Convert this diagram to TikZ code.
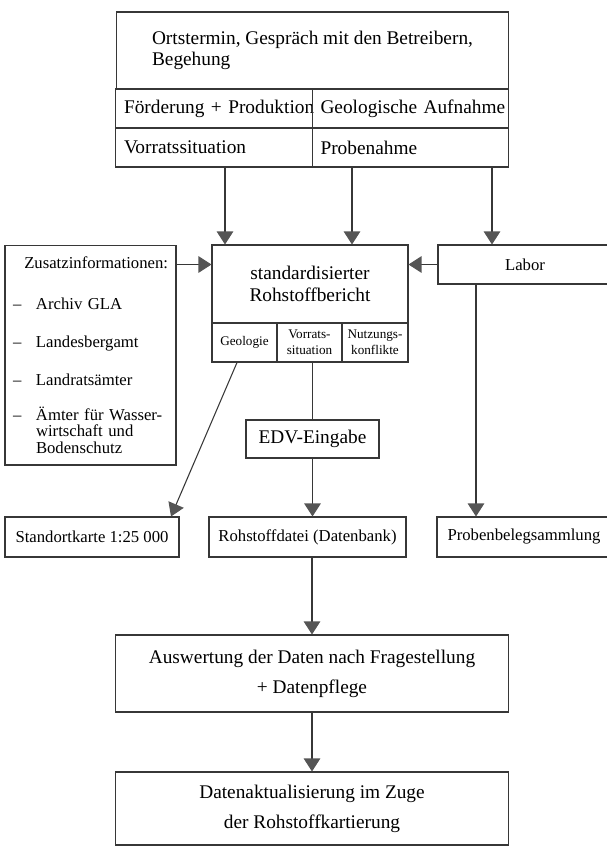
\documentclass[tikz,border=0pt]{standalone}
\usepackage{fontspec}
\setmainfont{Liberation Serif}
\usetikzlibrary{arrows.meta}
\definecolor{strichgrau}{RGB}{55,55,55}
\definecolor{spitze}{RGB}{85,85,85}

\begin{document}
\begin{tikzpicture}[x=0.02cm, y=-0.02cm,
    kasten/.style={draw=strichgrau, line width=0.6pt, inner sep=0pt, minimum height=0.78cm},
    gross/.style={font=\fontsize{11}{12.2}\selectfont},
    mittel/.style={font=\fontsize{9.5}{11}\selectfont},
    klein/.style={font=\fontsize{7.5}{9}\selectfont},
    zelle/.style={kasten, gross, minimum width=3.93cm, text width=3.6cm, align=left},
    strich/.style={draw=strichgrau, line width=0.6pt},
    pfeil/.style={strich, -{Triangle[length=2.6mm, width=3.3mm, color=spitze]}}]
      \useasboundingbox (0,0) rectangle (607,846);
      \node[kasten, gross, minimum width=7.86cm, minimum height=1.54cm, align=left] (ort) at (312.5,50.5) {Ortstermin, Gespräch mit den Betreibern,\\Begehung};
      \node[zelle] (foerd) at (214,108.5) {\mbox{Förderung + Produktion}};
      \node[zelle] (geoauf) at (410.5,108.5) {\mbox{Geologische Aufnahme}};
      \node[zelle] (vorrat) at (214,147.5) {Vorratssituation};
      \node[zelle] (probe) at (410.5,147.5) {Probenahme};

      \node[kasten, gross, minimum width=3.92cm, minimum height=1.56cm, align=center] (bericht) at (310,284) {standardisierter\\Rohstoffbericht};
      \node[kasten, klein, minimum width=1.3cm] (geo) at (244.5,342.5) {Geologie};
      \node[kasten, klein, minimum width=1.3cm, align=center] (vsit) at (309.5,342.5) {Vorrats-\\situation};
      \node[kasten, klein, minimum width=1.32cm, align=center] (nutz) at (375,342.5) {Nutzungs-\\konflikte};

      \node[kasten, font=\fontsize{9.5}{9.3}\selectfont, minimum width=3.42cm, minimum height=4.4cm, text width=3.1cm, align=left] (zusatz) at (90.5,355) {\hfill Zusatzinformationen:\\[14pt]
        \makebox[0.46cm][l]{--}Archiv GLA\\[12.5pt]
        \makebox[0.46cm][l]{--}Landesbergamt\\[12.5pt]
        \makebox[0.46cm][l]{--}Landratsämter\\[10.5pt]
        \makebox[0.46cm][l]{--}Ämter für Wasser-\\\hspace*{0.46cm}wirtschaft und\\\hspace*{0.46cm}Bodenschutz};
      \node[kasten, mittel, minimum width=3.48cm] (labor) at (525,264.5) {Labor};

      \node[kasten, gross, minimum width=2.66cm, minimum height=0.76cm] (edv) at (312.5,439) {EDV-Eingabe};
      \node[kasten, mittel, minimum width=3.48cm, minimum height=0.8cm] (karte) at (92,537) {Standortkarte 1:25 000};
      \node[kasten, mittel, minimum width=3.94cm, minimum height=0.8cm] (datei) at (307.5,537) {Rohstoffdatei (Datenbank)};
      \node[kasten, mittel, minimum width=3.48cm, minimum height=0.8cm] (beleg) at (524,537) {Probenbelegsammlung};

      \node[kasten, gross, minimum width=7.88cm, minimum height=1.54cm, align=center] (auswert) at (312,673.5) {Auswertung der Daten nach Fragestellung\\[5pt]+ Datenpflege};
      \node[kasten, gross, minimum width=7.88cm, minimum height=1.46cm, align=center] (aktual) at (312,808.5) {Datenaktualisierung im Zuge\\[5pt]der Rohstoffkartierung};

      \draw[pfeil] (225,0 |- vorrat.south) -- (225,0 |- bericht.north);
      \draw[pfeil] (352,0 |- probe.south) -- (352,0 |- bericht.north);
      \draw[pfeil] (492,0 |- probe.south) -- (492,0 |- labor.north);
      \draw[pfeil] (zusatz.east |- labor.west) -- (bericht.west |- labor.west);
      \draw[pfeil] (labor.west) -- (bericht.east |- labor.west);
      \draw[pfeil] (237,0 |- geo.south) -- (171,0 |- karte.north);
      \draw[strich] (vsit.south -| edv.north) -- (edv.north);
      \draw[pfeil] (edv.south) -- (edv.south |- datei.north);
      \draw[pfeil] (476,0 |- labor.south) -- (476,0 |- beleg.north);
      \draw[pfeil] (auswert.north |- datei.south) -- (auswert.north);
      \draw[pfeil] (auswert.south) -- (aktual.north);
    \end{tikzpicture}
\end{document}
